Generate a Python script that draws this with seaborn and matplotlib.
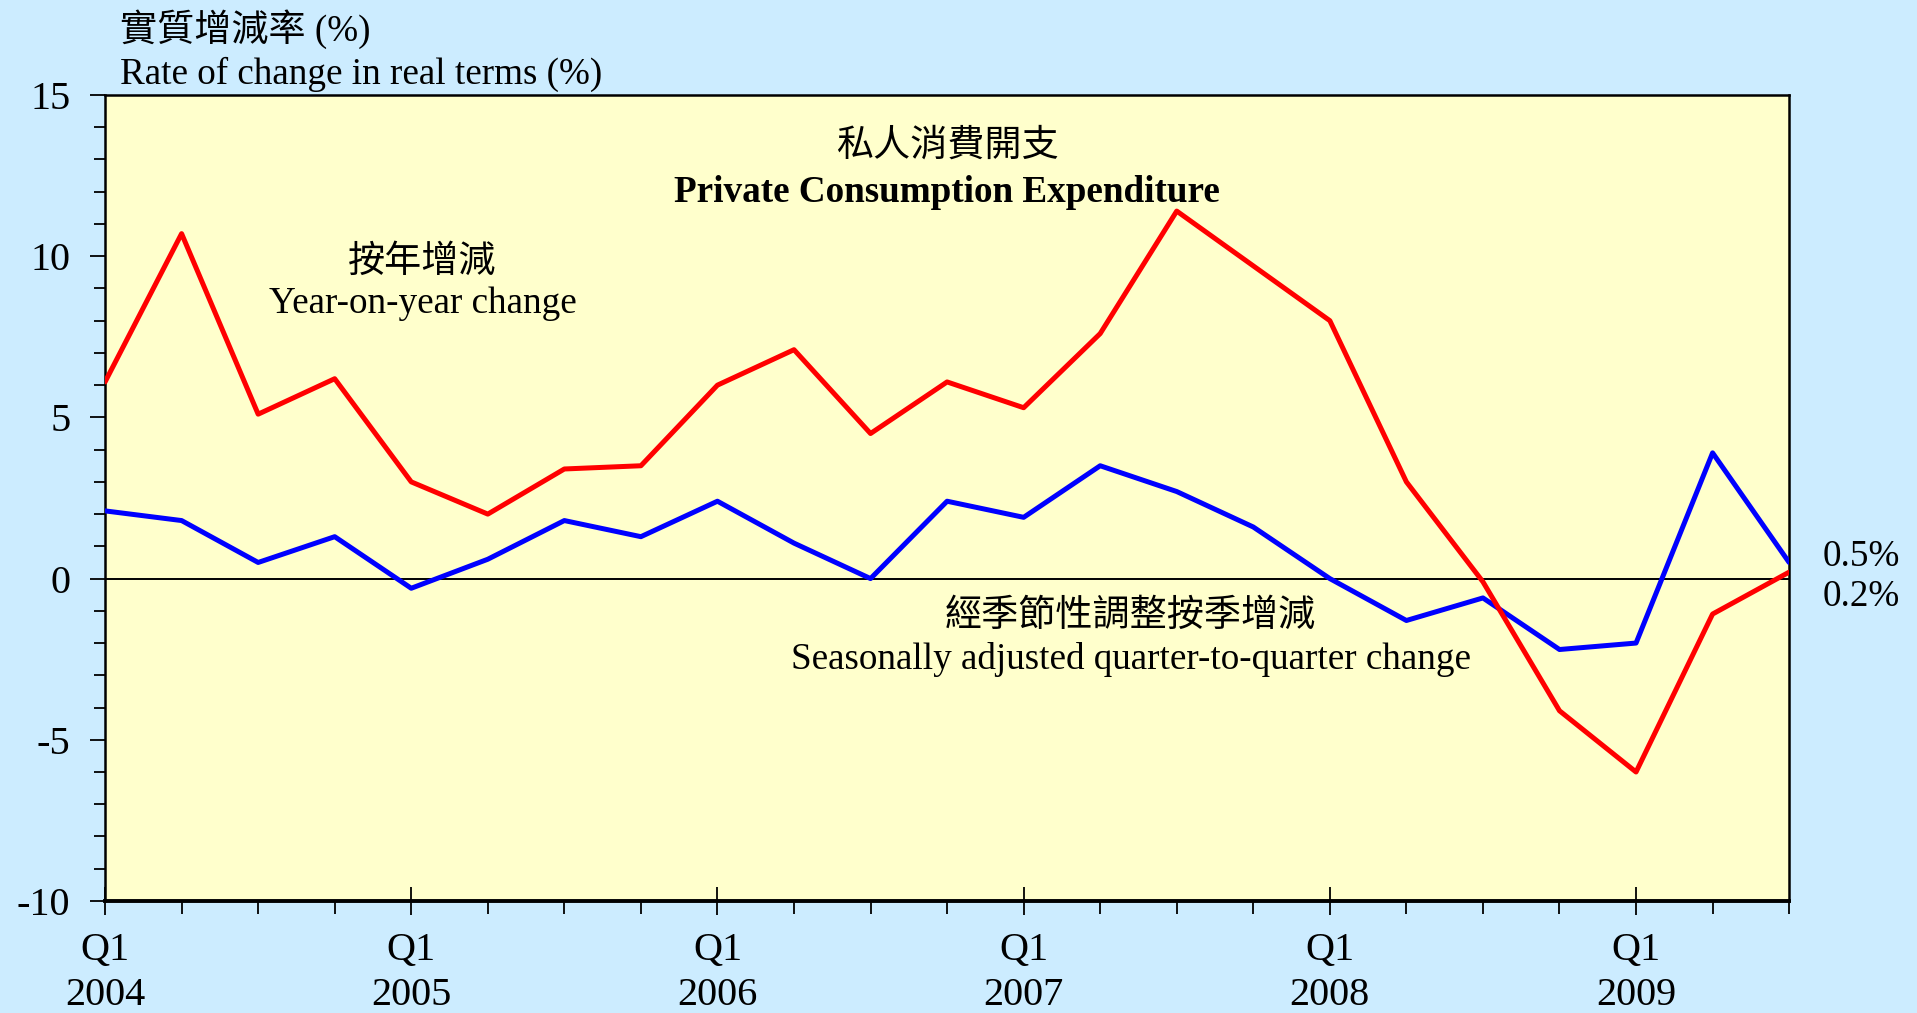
import matplotlib
matplotlib.use("Agg")
import matplotlib.pyplot as plt
import seaborn as sns
import pandas as pd
from matplotlib.ticker import FixedLocator, MultipleLocator

# ---- data ----
quarters = [f"{y} Q{q}" for y in range(2004, 2010) for q in range(1, 5)][:23]
yoy = [6.1, 10.7, 5.1, 6.2, 3.0, 2.0, 3.4, 3.5, 6.0, 7.1, 4.5, 6.1,
       5.3, 7.6, 11.4, 9.7, 8.0, 3.0, -0.1, -4.1, -6.0, -1.1, 0.2]
qoq = [2.1, 1.8, 0.5, 1.3, -0.3, 0.6, 1.8, 1.3, 2.4, 1.1, 0.0, 2.4,
       1.9, 3.5, 2.7, 1.6, 0.0, -1.3, -0.6, -2.2, -2.0, 3.9, 0.5]
year_labels = ["2004", "2005", "2006", "2007", "2008", "2009"]
y_ticks = [-10, -5, 0, 5, 10, 15]

df = pd.DataFrame({
    "idx": list(range(len(quarters))) * 2,
    "value": yoy + qoq,
    "series": ["yoy"] * len(yoy) + ["qoq"] * len(qoq),
})

sns.set_theme(style="ticks")
SERIF = ["Liberation Serif", "Noto Sans CJK TC"]
plt.rcParams["font.family"] = SERIF
for k in ["text.color", "xtick.color", "ytick.color", "axes.labelcolor", "axes.edgecolor"]:
    plt.rcParams[k] = "black"

FS = 26.7

fig = plt.figure(figsize=(19.17, 10.13), dpi=100, facecolor="#CCECFF")
ax = fig.add_axes([0.0548, 0.1106, 0.8785, 0.7956])
ax.set_facecolor("#FFFFCC")

sns.lineplot(data=df, x="idx", y="value", hue="series", hue_order=["qoq", "yoy"],
             palette={"yoy": "#FF0000", "qoq": "#0000FF"},
             linewidth=3.6, legend=False, ax=ax, zorder=3)

ax.axhline(0, color="black", linewidth=1.4, zorder=2)

ax.set_xlim(0, len(quarters) - 1)
ax.set_ylim(-10, 15)

# x ticks
major_x = [i for i in range(len(quarters)) if i % 4 == 0]
ax.xaxis.set_major_locator(FixedLocator(major_x))
ax.xaxis.set_minor_locator(MultipleLocator(1))
ax.set_xticklabels([f"Q1\n{y}" for y in year_labels])
ax.tick_params(axis="x", which="major", direction="inout", length=20, width=1.3,
               labelsize=29, pad=12)
ax.tick_params(axis="x", which="minor", direction="out", length=9, width=1.3)
for lab in ax.get_xticklabels():
    lab.set_linespacing(1.3)
    lab.set_family(SERIF)

# y ticks
ax.yaxis.set_major_locator(FixedLocator(y_ticks))
ax.yaxis.set_minor_locator(MultipleLocator(1))
ax.set_yticklabels([str(v) for v in y_ticks])
ax.tick_params(axis="y", which="major", direction="out", length=11, width=1.3,
               labelsize=29, pad=14)
ax.tick_params(axis="y", which="minor", direction="out", length=8, width=1.3)

for name, s in ax.spines.items():
    s.set_linewidth(1.8)
    s.set_color("black")
    s.set_visible(True)
ax.spines["bottom"].set_linewidth(2.8)

ax.set_xlabel("")
ax.set_ylabel("")

# y-axis caption
fig.text(0.0626, 0.9716, "實質增減率 (%)", fontsize=FS, family=SERIF,
         ha="left", va="center")
fig.text(0.0626, 0.9266, "Rate of change in real terms (%)", fontsize=FS,
         family=SERIF, ha="left", va="center")

# title
ax.text(0.5, 0.936, "私人消費開支", transform=ax.transAxes, fontsize=FS,
        family=SERIF, ha="center", va="center")
ax.text(0.5, 0.879, "Private Consumption Expenditure", transform=ax.transAxes,
        fontsize=FS, fontweight="bold", family=SERIF, ha="center", va="center")

# series annotations
ax.text(0.1885, 0.792, "按年增減", transform=ax.transAxes, fontsize=FS,
        family=SERIF, ha="center", va="center")
ax.text(0.1885, 0.741, "Year-on-year change", transform=ax.transAxes,
        fontsize=FS, family=SERIF, ha="center", va="center")
ax.text(0.609, 0.353, "經季節性調整按季增減", transform=ax.transAxes,
        fontsize=FS, family=SERIF, ha="center", va="center")
ax.text(0.609, 0.299, "Seasonally adjusted quarter-to-quarter change",
        transform=ax.transAxes, fontsize=FS, family=SERIF, ha="center",
        va="center")

# end labels
ax.text(1.02, 0.427, f"{qoq[-1]}%", transform=ax.transAxes, fontsize=FS,
        family=SERIF, ha="left", va="center")
ax.text(1.02, 0.378, f"{yoy[-1]}%", transform=ax.transAxes, fontsize=FS,
        family=SERIF, ha="left", va="center")

fig.savefig("out.png", dpi=100, facecolor=fig.get_facecolor())
